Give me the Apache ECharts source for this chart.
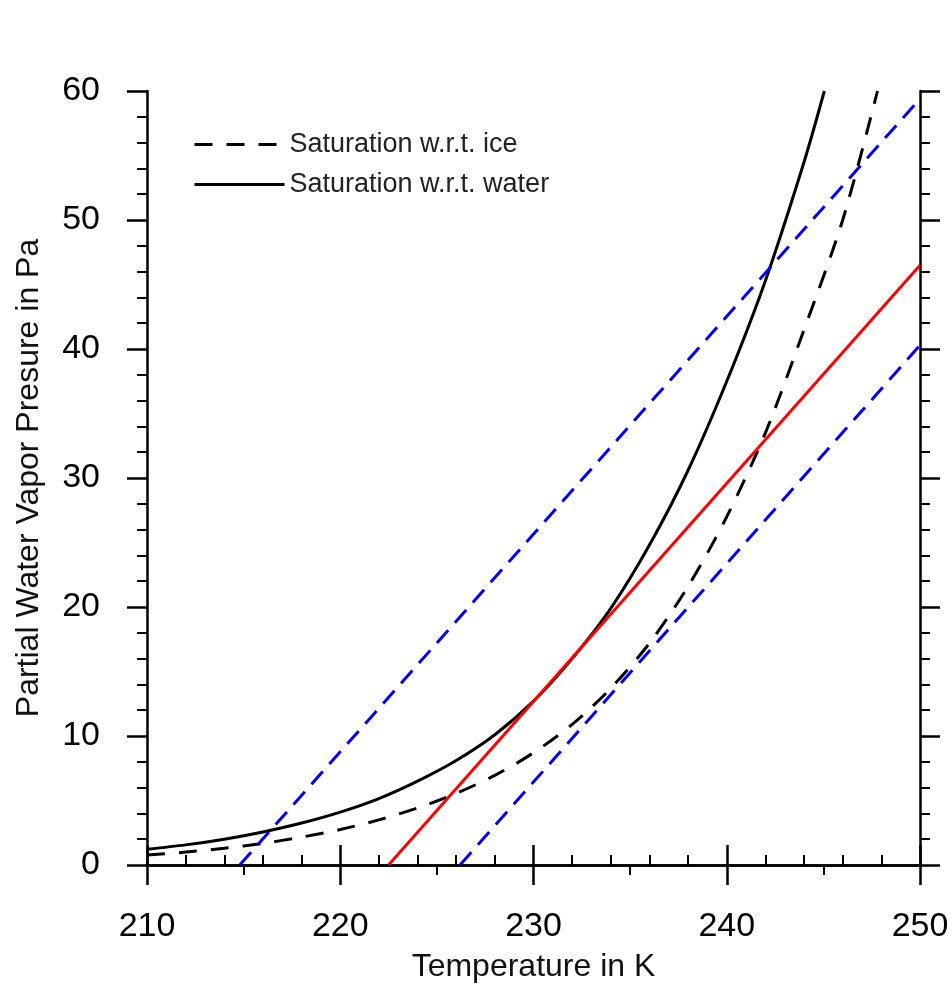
<!DOCTYPE html>
<html>
<head>
<meta charset="utf-8">
<script src="https://cdn.jsdelivr.net/npm/echarts@6/dist/echarts.min.js"></script>
<style>
html,body{margin:0;padding:0;background:#fff;}
#chart{width:952px;height:987px;}
</style>
</head>
<body>
<div id="chart"></div>
<script>
// Temperatures (K) and saturation vapour pressures (Pa)
var waterT = [210, 212, 214, 216, 218, 220, 222, 224, 226, 228, 230, 232, 234, 236, 238, 240, 242, 244, 245.05];
var waterP = [1.22, 1.56, 2.0, 2.56, 3.25, 4.1, 5.15, 6.5, 8.1, 10.1, 12.7, 16.0, 19.9, 24.8, 30.6, 37.5, 45.3, 54.5, 60];
var iceT = [210, 212, 214, 216, 218, 220, 222, 224, 226, 228, 230, 232, 234, 236, 238, 240, 242, 244, 246, 247.8];
var iceP = [0.78, 1.0, 1.3, 1.68, 2.16, 2.75, 3.5, 4.42, 5.55, 6.95, 8.7, 10.9, 13.7, 17.2, 21.6, 27.0, 33.5, 41.5, 50.0, 60];
// Straight mixing lines: [T, P] end points
var redLineT = [222.5, 250];
var redLineP = [0, 46.5];
var blueUpperT = [214.8, 250];
var blueUpperP = [0, 59.4];
var blueLowerT = [226.2, 250];
var blueLowerP = [0, 40.3];
// Axes
var xTicks = [210, 220, 230, 240, 250];
var yTicks = [0, 10, 20, 30, 40, 50, 60];
var legendNames = ['Saturation w.r.t. ice', 'Saturation w.r.t. water'];
var xTitle = 'Temperature in K';
var yTitle = 'Partial Water Vapor Presure in Pa';

function pairs(xs, ys) { return xs.map(function (x, i) { return [x, ys[i]]; }); }

var FONT = '"Liberation Sans", Arial, Helvetica, sans-serif';
var axisLineStyle = { color: '#000', width: 2.5 };

function xAxis(pos, minorSplit, showLabels) {
  return {
    type: 'value', position: pos, min: xTicks[0], max: xTicks[xTicks.length - 1], interval: 10,
    name: showLabels ? xTitle : '', nameLocation: 'middle', nameGap: 86,
    nameTextStyle: { fontFamily: FONT, fontSize: 32, color: '#111' },
    axisLine: { show: true, lineStyle: axisLineStyle },
    axisTick: { show: true, inside: false, length: 20, lineStyle: { color: '#000', width: 2.5 } },
    minorTick: { show: true, splitNumber: minorSplit, length: 10, lineStyle: { color: '#000', width: 2 } },
    axisLabel: { show: showLabels, margin: 45, fontFamily: FONT, fontSize: 34, color: '#000' },
    splitLine: { show: false }, minorSplitLine: { show: false }
  };
}
function yAxis(pos, showLabels) {
  return {
    type: 'value', position: pos, min: yTicks[0], max: yTicks[yTicks.length - 1], interval: 10,
    name: showLabels ? yTitle : '', nameLocation: 'middle', nameGap: 102,
    nameTextStyle: { fontFamily: FONT, fontSize: 32, color: '#111' },
    axisLine: { show: true, lineStyle: axisLineStyle },
    axisTick: { show: true, inside: false, length: 20, lineStyle: { color: '#000', width: 2.5 } },
    minorTick: { show: true, splitNumber: 5, length: 10, lineStyle: { color: '#000', width: 2 } },
    axisLabel: { show: showLabels, margin: 47, fontFamily: FONT, fontSize: 34, color: '#000' },
    splitLine: { show: false }, minorSplitLine: { show: false }
  };
}

var chart = echarts.init(document.getElementById('chart'), null, { renderer: 'canvas' });
chart.setOption({
  animation: false,
  backgroundColor: '#fff',
  grid: { left: 147, top: 91, width: 773, height: 774, containLabel: false, outerBoundsMode: 'none' },
  legend: {
    data: legendNames, orient: 'vertical', left: 193, top: 131, itemGap: 13, padding: 0,
    itemWidth: 90, itemHeight: 14,
    itemStyle: { opacity: 0 },
    lineStyle: { width: 3 },
    textStyle: { fontFamily: FONT, fontSize: 27, color: '#222' }
  },
  xAxis: [xAxis('bottom', 2, true), xAxis('top', 5, false)],
  yAxis: [yAxis('left', true), yAxis('right', false)],
  series: [
    { name: legendNames[1], type: 'line', data: pairs(waterT, waterP), smooth: 0.3, symbol: 'none',
      lineStyle: { color: '#000', width: 3, type: 'solid' }, itemStyle: { color: '#000' }, z: 2 },
    { name: legendNames[0], type: 'line', data: pairs(iceT, iceP), smooth: 0.3, symbol: 'none',
      lineStyle: { color: '#000', width: 3, type: [18, 14] }, itemStyle: { color: '#000' }, z: 2 },
    { name: 'upper mixing line', type: 'line', data: pairs(blueUpperT, blueUpperP), symbol: 'none',
      lineStyle: { color: '#0000ff', width: 3, type: [17, 10] }, z: 3 },
    { name: 'lower mixing line', type: 'line', data: pairs(blueLowerT, blueLowerP), symbol: 'none',
      lineStyle: { color: '#0000ff', width: 3, type: [17, 10] }, z: 3 },
    { name: 'tangent mixing line', type: 'line', data: pairs(redLineT, redLineP), symbol: 'none',
      lineStyle: { color: '#ff0000', width: 3, type: 'solid' }, z: 4 }
  ]
});
</script>
</body>
</html>
